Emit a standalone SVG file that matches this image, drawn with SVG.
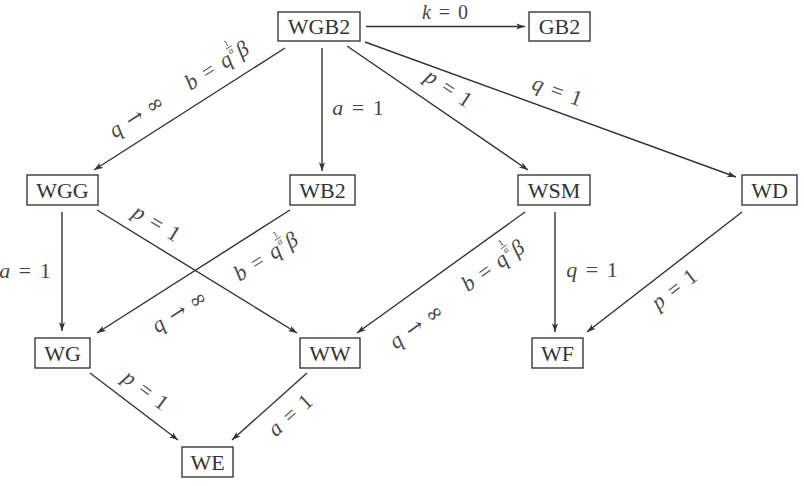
<svg xmlns="http://www.w3.org/2000/svg" width="804" height="486" viewBox="0 0 804 486">
<defs>
<marker id="arr" viewBox="0 0 10 8" refX="10" refY="4" markerWidth="9" markerHeight="7" markerUnits="userSpaceOnUse" orient="auto">
<path d="M0,0.5 L10,4 L0,7.5 L2.5,4 Z" fill="#333"/>
</marker>
</defs>
<style>
.node rect{fill:#fff;stroke:#3a3a3a;stroke-width:1.4}
.node text{font-family:"Liberation Serif","DejaVu Serif",serif;font-size:22px;text-anchor:middle;fill:#333}
.edge line{stroke:#333;stroke-width:1.4;fill:none;marker-end:url(#arr)}
.lbl text{font-family:"Liberation Serif","DejaVu Serif",serif;font-size:22px;fill:#474747;word-spacing:3px}
.lbl text.c{text-anchor:middle}
.lbl text.s{font-size:9px;text-anchor:middle}
.lbl text.t{word-spacing:0}
.lbl line{stroke:#474747;stroke-width:0.8}
.i{font-style:italic}
.m{font-family:"DejaVu Serif",serif;font-size:21px}
</style>
<rect width="804" height="486" fill="#fff"/>
<g id="connectors" class="edge">
<line x1="366" y1="26.5" x2="525" y2="26.5"/>
<line x1="285" y1="48" x2="94" y2="170"/>
<line x1="322" y1="48" x2="322" y2="171"/>
<line x1="347" y1="46" x2="528" y2="170"/>
<line x1="365" y1="42" x2="736" y2="177"/>
<line x1="62" y1="212" x2="62" y2="331"/>
<line x1="97" y1="210" x2="297" y2="333"/>
<line x1="290" y1="210" x2="97" y2="333"/>
<line x1="525" y1="212" x2="357" y2="333"/>
<line x1="555" y1="212" x2="555" y2="332"/>
<line x1="742" y1="212" x2="587" y2="332"/>
<line x1="90" y1="373" x2="178" y2="440"/>
<line x1="307" y1="373" x2="232" y2="440"/>
</g>
<g id="WGB2" class="node"><rect x="278" y="12" width="82" height="29"/><text x="319" y="34">WGB2</text></g>
<g id="GB2" class="node"><rect x="529" y="12" width="61" height="29"/><text x="559.5" y="34">GB2</text></g>
<g id="WGG" class="node"><rect x="27" y="175" width="71" height="30"/><text x="62.5" y="197.5">WGG</text></g>
<g id="WB2" class="node"><rect x="290" y="175" width="65" height="30"/><text x="322.5" y="197.5">WB2</text></g>
<g id="WSM" class="node"><rect x="518" y="175" width="72" height="30"/><text x="554" y="197.5">WSM</text></g>
<g id="WD" class="node"><rect x="742" y="175" width="55" height="30"/><text x="769.5" y="197.5">WD</text></g>
<g id="WG" class="node"><rect x="35" y="338" width="55" height="30"/><text x="62.5" y="360.5">WG</text></g>
<g id="WW" class="node"><rect x="300" y="338" width="60" height="30"/><text x="330" y="360.5">WW</text></g>
<g id="WF" class="node"><rect x="532" y="338" width="51" height="30"/><text x="557.5" y="360.5">WF</text></g>
<g id="WE" class="node"><rect x="182" y="447" width="51" height="30"/><text x="207.5" y="469.5">WE</text></g>
<g id="labels" class="lbl">
<text class="c" x="445" y="19" style="font-size:20px"><tspan class="i">k</tspan> = 0</text>
<g transform="translate(137,117) rotate(-32.6)"><text class="c t" y="6"><tspan class="i">q</tspan><tspan class="m" dx="8">→ ∞</tspan></text></g>
<g transform="translate(218,65) rotate(-32.6)"><text x="-37" y="7"><tspan class="i">b</tspan> = <tspan class="i">q</tspan></text><text class="s" x="18.5" y="-11">1</text><line x1="15" y1="-9" x2="22" y2="-9"/><text class="s i" x="18.5" y="-2.5">α</text><text class="i" x="23.5" y="7">β</text></g>
<text class="c" x="358" y="115"><tspan class="i">a</tspan> = 1</text>
<g transform="translate(448,89) rotate(33.6)"><text class="c" y="6"><tspan class="i">p</tspan> = 1</text></g>
<g transform="translate(557,92) rotate(20)"><text class="c" y="6"><tspan class="i">q</tspan> = 1</text></g>
<text class="c" x="25" y="278"><tspan class="i">a</tspan> = 1</text>
<g transform="translate(156,224) rotate(31.6)"><text class="c" y="6"><tspan class="i">p</tspan> = 1</text></g>
<g transform="translate(267,256) rotate(-32.5)"><text x="-37" y="7"><tspan class="i">b</tspan> = <tspan class="i">q</tspan></text><text class="s" x="18.5" y="-11">1</text><line x1="15" y1="-9" x2="22" y2="-9"/><text class="s i" x="18.5" y="-2.5">α</text><text class="i" x="23.5" y="7">β</text></g>
<g transform="translate(180,312) rotate(-32.5)"><text class="c t" y="6"><tspan class="i">q</tspan><tspan class="m" dx="8">→ ∞</tspan></text></g>
<g transform="translate(494,265) rotate(-35.8)"><text x="-37" y="7"><tspan class="i">b</tspan> = <tspan class="i">q</tspan></text><text class="s" x="18.5" y="-11">1</text><line x1="15" y1="-9" x2="22" y2="-9"/><text class="s i" x="18.5" y="-2.5">α</text><text class="i" x="23.5" y="7">β</text></g>
<g transform="translate(417,327) rotate(-35.8)"><text class="c t" y="6"><tspan class="i">q</tspan><tspan class="m" dx="8">→ ∞</tspan></text></g>
<text class="c" x="592" y="277"><tspan class="i">q</tspan> = 1</text>
<g transform="translate(675,290) rotate(-37.7)"><text class="c" y="6"><tspan class="i">p</tspan> = 1</text></g>
<g transform="translate(145,391) rotate(37.3)"><text class="c" y="6"><tspan class="i">p</tspan> = 1</text></g>
<g transform="translate(291,416) rotate(-41.8)"><text class="c" y="6"><tspan class="i">a</tspan> = 1</text></g>
</g>
</svg>
